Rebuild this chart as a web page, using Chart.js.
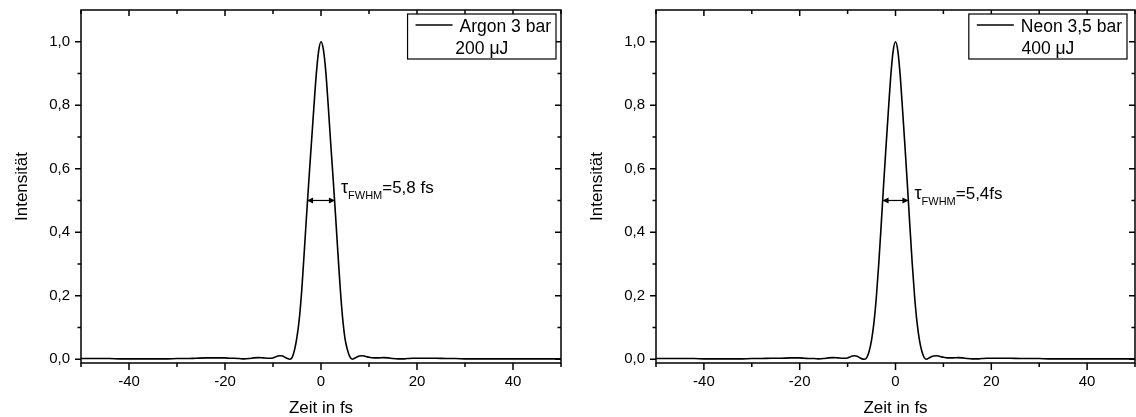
<!DOCTYPE html>
<html><head><meta charset="utf-8">
<script src="https://cdn.jsdelivr.net/npm/chart.js@4.4.0/dist/chart.umd.min.js"></script>
<style>
html,body{margin:0;padding:0;background:#fff;width:1136px;height:417px;overflow:hidden}
#c1{position:absolute;left:0;top:0;width:570px;height:417px}
#c2{position:absolute;left:575px;top:0;width:561px;height:417px}
</style></head><body>
<canvas id="c1" width="570" height="417"></canvas>
<canvas id="c2" width="561" height="417"></canvas>
<script>
// ---- data ----
const timeFs = [
  -50,-48,-46,-44,-42,-40,-38,-36,-34,-32,-30,-28,-26,-24,-22,
  -20,-19,-18,-17,-16,-15,-14,-13,-12,-11,
  -10,-9.5,-9,-8.5,-8,-7.5,-7,-6.5,-6,-5.5,-5,-4.5,-4,-3.5,-3,-2.5,-2,-1.5,-1,-0.5,
  0,0.5,1,1.5,2,2.5,3,3.5,4,4.5,5,5.5,6,6.5,7,7.5,8,8.5,9,9.5,10,
  11,12,13,14,15,16,17,18,19,20,
  22,24,26,28,30,32,34,36,38,40,42,44,46,48,50
];
const argonIntensity = [
  0.002,0.002,0.002,0.002,0.001,0.001,0.001,0.001,0.001,0.001,0.002,0.002,0.003,0.004,0.004,
  0.004,0.003,0.003,0.002,0.001,0.002,0.004,0.005,0.004,0.003,
  0.004,0.007,0.010,0.011,0.010,0.006,0.002,0.000,0.006,0.030,0.070,0.130,0.220,0.335,0.455,0.570,0.680,0.790,0.895,0.970,
  1.000,0.975,0.905,0.800,0.685,0.575,0.460,0.340,0.225,0.130,0.065,0.030,0.008,0.000,0.003,0.007,0.010,0.011,0.010,0.008,0.006,
  0.004,0.004,0.005,0.004,0.002,0.001,0.001,0.002,0.003,0.003,
  0.003,0.003,0.002,0.002,0.001,0.001,0.001,0.001,0.001,0.001,0.001,0.001,0.001,0.001,0.001
];
const neonIntensity = [
  0.002,0.002,0.002,0.002,0.002,0.001,0.001,0.001,0.001,0.001,0.002,0.002,0.003,0.003,0.004,
  0.004,0.003,0.002,0.002,0.001,0.002,0.004,0.005,0.004,0.003,
  0.004,0.007,0.010,0.011,0.009,0.005,0.001,0.000,0.005,0.025,0.060,0.115,0.195,0.300,0.420,0.545,0.665,0.780,0.890,0.970,
  1.000,0.970,0.890,0.780,0.665,0.545,0.420,0.300,0.195,0.115,0.060,0.025,0.005,0.000,0.004,0.008,0.010,0.011,0.010,0.008,0.006,
  0.004,0.004,0.005,0.004,0.002,0.001,0.001,0.002,0.003,0.003,
  0.003,0.003,0.002,0.002,0.002,0.001,0.001,0.001,0.001,0.001,0.001,0.001,0.001,0.001,0.001
];
const xTickValues = [-40,-20,0,20,40];
const xMinorTickValues = [-50,-40,-30,-20,-10,0,10,20,30,40,50];
const yTickValues = [0,0.2,0.4,0.6,0.8,1.0];
const yMinorTickValues = [0,0.1,0.2,0.3,0.4,0.5,0.6,0.7,0.8,0.9,1.0];
const argonLegend = ['Argon 3 bar','200 μJ'];
const neonLegend = ['Neon 3,5 bar','400 μJ'];
const argonFwhm = 5.8;
const neonFwhm = 5.4;
const argonFwhmText = '=5,8 fs';
const neonFwhmText = '=5,4fs';
const xTitle = 'Zeit in fs';
const yTitle = 'Intensität';

// ---- rendering ----
const FONT = "'Liberation Sans', Arial, sans-serif";
Chart.defaults.font.family = FONT;
Chart.defaults.color = '#000';

const framePlugin = {
  id: 'frame',
  afterDraw(chart) {
    const {ctx, chartArea: a, scales: {x, y}} = chart;
    ctx.save();
    ctx.strokeStyle = '#000';
    ctx.lineWidth = 1.5;
    ctx.strokeRect(a.left, a.top, a.right - a.left, a.bottom - a.top);
    ctx.beginPath();
    xMinorTickValues.forEach(v => {
      const px = x.getPixelForValue(v);
      const major = Math.abs(v % 20) < 1e-9;
      const lb = major ? 7 : 4, lt = major ? 6 : 4;
      ctx.moveTo(px, a.bottom); ctx.lineTo(px, a.bottom + lb);
      ctx.moveTo(px, a.top); ctx.lineTo(px, a.top + lt);
    });
    yMinorTickValues.forEach((v, i) => {
      const py = y.getPixelForValue(v);
      const major = i % 2 === 0;
      const ll = major ? 6 : 3.5, lr = major ? 6 : 3.5;
      ctx.moveTo(a.left, py); ctx.lineTo(a.left - ll, py);
      ctx.moveTo(a.right, py); ctx.lineTo(a.right - lr, py);
    });
    ctx.stroke();
    ctx.restore();
  }
};

const legendBoxPlugin = {
  id: 'legendBox',
  afterDraw(chart, args, opts) {
    const {ctx, chartArea: a} = chart;
    ctx.save();
    ctx.font = '17.5px ' + FONT;
    const tw = ctx.measureText(opts.lines[0]).width;
    const w = 8 + 37 + 7 + tw + 5;
    const h = 45;
    const right = a.right - opts.inset;
    const left = right - w;
    const top = opts.top;
    ctx.fillStyle = '#fff';
    ctx.fillRect(left, top, w, h);
    ctx.lineWidth = 1.2;
    ctx.strokeStyle = '#000';
    ctx.strokeRect(left, top, w, h);
    ctx.lineWidth = 1.5;
    ctx.beginPath();
    ctx.moveTo(left + 8, top + 11); ctx.lineTo(left + 45, top + 11);
    ctx.stroke();
    ctx.fillStyle = '#000';
    ctx.textBaseline = 'alphabetic';
    ctx.textAlign = 'left';
    ctx.fillText(opts.lines[0], left + 52, top + 18);
    ctx.textAlign = 'center';
    ctx.fillText(opts.lines[1], left + w / 2, top + 40);
    ctx.restore();
  }
};

const fwhmPlugin = {
  id: 'fwhm',
  afterDraw(chart, args, opts) {
    const {ctx, scales: {x, y}} = chart;
    const x1 = x.getPixelForValue(-opts.width / 2);
    const x2 = x.getPixelForValue(opts.width / 2);
    const py = y.getPixelForValue(0.5);
    ctx.save();
    ctx.strokeStyle = '#000'; ctx.fillStyle = '#000';
    ctx.lineWidth = 1.2;
    ctx.beginPath(); ctx.moveTo(x1, py); ctx.lineTo(x2, py); ctx.stroke();
    ctx.beginPath();
    ctx.moveTo(x1, py); ctx.lineTo(x1 + 6, py - 3); ctx.lineTo(x1 + 6, py + 3); ctx.closePath();
    ctx.moveTo(x2, py); ctx.lineTo(x2 - 6, py - 3); ctx.lineTo(x2 - 6, py + 3); ctx.closePath();
    ctx.fill();
    let tx = x2 + opts.dx;
    const by = py + opts.dy;
    ctx.textBaseline = 'alphabetic'; ctx.textAlign = 'left';
    ctx.font = '18px ' + FONT;
    ctx.fillText('τ', tx, by);
    tx += ctx.measureText('τ').width;
    ctx.font = '11px ' + FONT;
    ctx.fillText('FWHM', tx, by + 6);
    tx += ctx.measureText('FWHM').width;
    ctx.font = '17px ' + FONT;
    ctx.fillText(opts.text, tx, by);
    ctx.restore();
  }
};

function makeChart(id, values, legendLines, fwhm, fwhmText, padRight, legendInset, textDy) {
  const pts = timeFs.map((t, i) => ({x: t, y: values[i]}));
  return new Chart(document.getElementById(id), {
    type: 'line',
    data: {datasets: [{data: pts, borderColor: '#000', borderWidth: 1.6, pointRadius: 0,
      fill: false, cubicInterpolationMode: 'monotone'}]},
    options: {
      responsive: false, animation: false,
      layout: {padding: {top: 10, right: padRight, left: 0, bottom: 0}},
      plugins: {
        legend: {display: false}, tooltip: {enabled: false},
        legendBox: {lines: legendLines, inset: legendInset, top: 14},
        fwhm: {width: fwhm, text: fwhmText, dx: 6, dy: textDy}
      },
      scales: {
        x: {
          type: 'linear', min: -50, max: 50,
          afterBuildTicks: s => { s.ticks = xTickValues.map(v => ({value: v})); },
          afterFit: s => { s.height = 54; s.paddingLeft = 0; s.paddingRight = 0; },
          grid: {display: false, drawTicks: false},
          border: {display: false},
          ticks: {font: {size: 15}, color: '#000', padding: 10, maxRotation: 0, autoSkip: false,
            callback: v => String(v)},
          title: {display: true, text: xTitle, font: {size: 17, lineHeight: 1}, color: '#000', padding: {top: 0, bottom: 0}}
        },
        y: {
          type: 'linear', min: -0.012, max: 1.1,
          afterBuildTicks: s => { s.ticks = yTickValues.map(v => ({value: v})); },
          afterFit: s => { s.width = 81; s.paddingTop = 0; s.paddingBottom = 0; },
          grid: {display: false, drawTicks: false},
          border: {display: false},
          ticks: {font: {size: 15}, color: '#000', padding: 11,
            callback: v => v.toFixed(1).replace('.', ',')},
          title: {display: true, text: yTitle, font: {size: 17}, color: '#000', padding: {top: 12, bottom: 0}}
        }
      }
    },
    plugins: [framePlugin, legendBoxPlugin, fwhmPlugin]
  });
}

makeChart('c1', argonIntensity, argonLegend, argonFwhm, argonFwhmText, 9, 5, -7);
makeChart('c2', neonIntensity, neonLegend, neonFwhm, neonFwhmText, 1, 8, -1);
</script>
</body></html>
